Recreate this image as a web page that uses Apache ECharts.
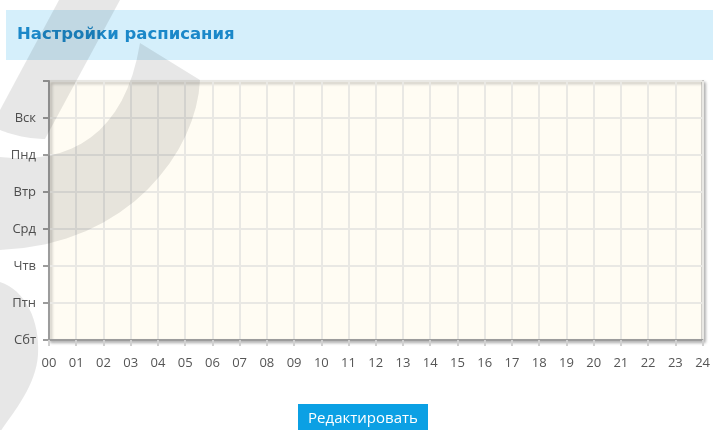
<!DOCTYPE html>
<html>
<head>
<meta charset="utf-8">
<script src="https://cdn.jsdelivr.net/npm/echarts@6/dist/echarts.min.js"></script>
<style>
html,body{margin:0;padding:0;background:#fff;}
#chart{width:713px;height:430px;}
</style>
</head>
<body>
<div id="chart"></div>
<script>
// Day labels from bottom (0) to top (6)
var dayLabels = ['Сбт', 'Птн', 'Чтв', 'Срд', 'Втр', 'Пнд', 'Вск'];
// Hour tick labels 00..24
var hourLabels = ['00','01','02','03','04','05','06','07','08','09','10','11','12',
                  '13','14','15','16','17','18','19','20','21','22','23','24'];
// Scheduled blocks: [dayIndex, startHour, endHour] — none set in the reference
var scheduleBlocks = [];
var titleText = 'Настройки расписания';
var buttonText = 'Редактировать';

// helper to flatten a decorative outline made of line/cubic segments into polygon points
function outline(start, segs) {
  var pts = [start];
  var cur = start;
  segs.forEach(function (s) {
    if (s.length === 1) { pts.push(s[0]); cur = s[0]; }
    else {
      var p0 = cur, p1 = s[0], p2 = s[1], p3 = s[2];
      for (var i = 1; i <= 16; i++) {
        var t = i / 16, u = 1 - t;
        pts.push([
          u*u*u*p0[0] + 3*u*u*t*p1[0] + 3*u*t*t*p2[0] + t*t*t*p3[0],
          u*u*u*p0[1] + 3*u*u*t*p1[1] + 3*u*t*t*p2[1] + t*t*t*p3[1]
        ]);
      }
      cur = p3;
    }
  });
  return pts;
}

var chart = echarts.init(document.getElementById('chart'), null, {renderer: 'canvas'});

var shade = 'rgba(0,0,0,0.095)';

var wmA = outline([59, 0], [[[120, 0]], [[45, 139]], [[30, 139], [12, 135], [0, 130]], [[0, 110]]]);
var wmB = outline([140, 43], [[[200, 80]], [[197, 150], [130, 245], [0, 250]], [[0, 157]], [[70, 165], [125, 135], [140, 43]]]);
var wmC = outline([0, 282], [[[25, 290], [40, 320], [38, 355]], [[36, 385], [15, 410], [0, 432]]]);

chart.setOption({
  animation: false,
  backgroundColor: '#ffffff',
  title: {
    text: titleText,
    left: 17,
    top: 26,
    padding: 0,
    textStyle: {
      color: '#1b88c9',
      fontSize: 16.5,
      fontWeight: 'bold',
      fontFamily: 'DejaVu Sans, sans-serif'
    }
  },
  grid: {
    left: 49, right: 9, top: 81, bottom: 90,
    show: true,
    backgroundColor: '#fffcf3',
    borderColor: '#9c9c9c',
    borderWidth: 2,
    shadowColor: 'rgba(0,0,0,0.25)',
    shadowBlur: 3,
    shadowOffsetX: 2,
    shadowOffsetY: 2
  },
  xAxis: {
    type: 'value',
    min: 0, max: 24, interval: 1,
    axisLine: {show: true, lineStyle: {color: '#9c9c9c', width: 2}},
    axisTick: {show: true, length: 6, lineStyle: {color: '#cfcfcf', width: 2}},
    axisLabel: {
      margin: 17,
      color: '#555',
      fontSize: 13,
      fontFamily: 'Open Sans, sans-serif',
      formatter: function (v) { return hourLabels[v] || ''; }
    },
    splitLine: {show: true, lineStyle: {color: '#e9e8e4', width: 2}}
  },
  yAxis: {
    type: 'value',
    min: 0, max: 7, interval: 1,
    axisLine: {show: true, lineStyle: {color: '#9c9c9c', width: 2}},
    axisTick: {show: true, length: 6, lineStyle: {color: '#9c9c9c', width: 2}},
    axisLabel: {
      margin: 13,
      color: '#555',
      fontSize: 13,
      fontFamily: 'Open Sans, sans-serif',
      formatter: function (v) { return dayLabels[v] || ''; }
    },
    splitLine: {show: true, lineStyle: {color: '#e9e8e4', width: 2}}
  },
  series: [{
    type: 'custom',
    data: scheduleBlocks,
    renderItem: function (params, api) {
      var s = api.coord([api.value(1), api.value(0) + 1]);
      var e = api.coord([api.value(2), api.value(0)]);
      return {type: 'rect', shape: {x: s[0], y: s[1], width: e[0] - s[0], height: e[1] - s[1]},
              style: {fill: '#5bb75b'}};
    }
  }],
  graphic: [
    {type: 'rect', z: -10, silent: true,
     shape: {x: 6, y: 10, width: 707, height: 50},
     style: {fill: '#d5effb'}},
    {type: 'rect', silent: true,
     shape: {x: 298, y: 404, width: 130, height: 30},
     style: {fill: '#0ba0e4'}},
    {type: 'text', silent: true, x: 363, y: 419,
     style: {text: buttonText, fill: '#ffffff', fontSize: 15,
             fontFamily: 'Open Sans, sans-serif', align: 'center', verticalAlign: 'middle'}},
    // watermark shapes overlaying the page
    {type: 'polygon', z: 100, silent: true, shape: {points: wmA}, style: {fill: shade}},
    {type: 'polygon', z: 100, silent: true, shape: {points: wmB}, style: {fill: shade}},
    {type: 'polygon', z: 100, silent: true, shape: {points: wmC}, style: {fill: shade}}
  ]
});
</script>
</body>
</html>
